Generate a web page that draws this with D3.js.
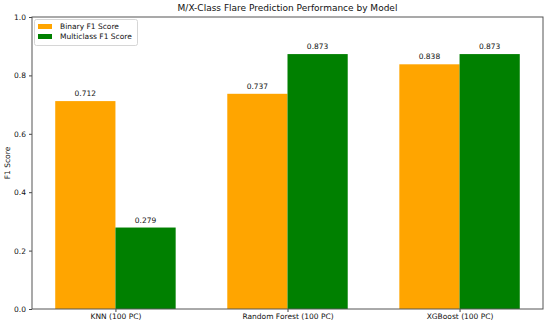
<!DOCTYPE html>
<html>
<head>
<script src="https://d3js.org/d3.v7.min.js"></script>
<style>
  body { margin: 0; background: #fff; }
  text { font-family: "DejaVu Sans", sans-serif; fill: #111; }
</style>
</head>
<body>
<svg width="550" height="322"></svg>
<script>
var models = ["KNN (100 PC)", "Random Forest (100 PC)", "XGBoost (100 PC)"];
var binaryF1 = [0.712, 0.737, 0.838];
var multiF1 = [0.279, 0.873, 0.873];
var seriesNames = ["Binary F1 Score", "Multiclass F1 Score"];
var colors = ["#ffa500", "#008000"];
var yTicks = [0.0, 0.2, 0.4, 0.6, 0.8, 1.0];

var svg = d3.select("svg");
var plotL = 32, plotR = 543, plotT = 17, plotB = 309;
var barW = 0.35;

var x = d3.scaleLinear().domain([-0.485, 2.485]).range([plotL, plotR]);
var y = d3.scaleLinear().domain([0, 1]).range([plotB, plotT]);

var series = [binaryF1, multiF1];
series.forEach(function(vals, s) {
    var off = s === 0 ? -barW : 0;
    svg.selectAll(".bar" + s)
        .data(vals)
        .enter().append("rect")
        .attr("x", function(d, i) { return x(i + off); })
        .attr("width", x(barW) - x(0))
        .attr("y", function(d) { return y(d); })
        .attr("height", function(d) { return y(0) - y(d); })
        .attr("fill", colors[s]);
    svg.selectAll(".lab" + s)
        .data(vals)
        .enter().append("text")
        .attr("x", function(d, i) { return x(i + off + barW / 2); })
        .attr("y", function(d) { return y(d) - 5; })
        .attr("text-anchor", "middle")
        .style("font-size", "7.5px")
        .text(function(d) { return d.toFixed(3); });
});

var yAxis = d3.axisLeft(y).tickValues(yTicks).tickFormat(d3.format(".1f")).tickSize(3).tickPadding(3);
var gy = svg.append("g").attr("transform", "translate(" + plotL + ",0)").call(yAxis);
gy.select(".domain").remove();
gy.selectAll("text").style("font-size", "7.5px").attr("fill", "#111");
gy.selectAll("line").attr("stroke", "#444");

var xAxis = d3.axisBottom(x).tickValues([0, 1, 2]).tickFormat(function(d) { return models[d]; }).tickSize(3).tickPadding(2);
var gx = svg.append("g").attr("transform", "translate(0," + plotB + ")").call(xAxis);
gx.select(".domain").remove();
gx.selectAll("text").style("font-size", "7.5px").attr("fill", "#111");
gx.selectAll("line").attr("stroke", "#444");

svg.append("rect")
    .attr("x", plotL).attr("y", plotT)
    .attr("width", plotR - plotL).attr("height", plotB - plotT)
    .attr("fill", "none").attr("stroke", "#555").attr("stroke-width", 1);

svg.append("text")
    .attr("x", (plotL + plotR) / 2).attr("y", 11)
    .attr("text-anchor", "middle")
    .style("font-size", "9px")
    .text("M/X-Class Flare Prediction Performance by Model");

svg.append("text")
    .attr("transform", "translate(10," + (plotT + plotB) / 2 + ") rotate(-90)")
    .attr("text-anchor", "middle")
    .style("font-size", "7.5px")
    .text("F1 Score");

var lg = svg.append("g");
lg.append("rect")
    .attr("x", 34.5).attr("y", 19.5).attr("width", 103).attr("height", 26)
    .attr("rx", 2).attr("fill", "#fff").attr("stroke", "#ccc").attr("stroke-width", 0.8);
seriesNames.forEach(function(name, i) {
    lg.append("rect")
        .attr("x", 38).attr("y", 24 + i * 10).attr("width", 14).attr("height", 5)
        .attr("fill", colors[i]);
    lg.append("text")
        .attr("x", 60).attr("y", 29 + i * 10)
        .style("font-size", "7.5px")
        .text(name);
});
</script>
</body>
</html>
